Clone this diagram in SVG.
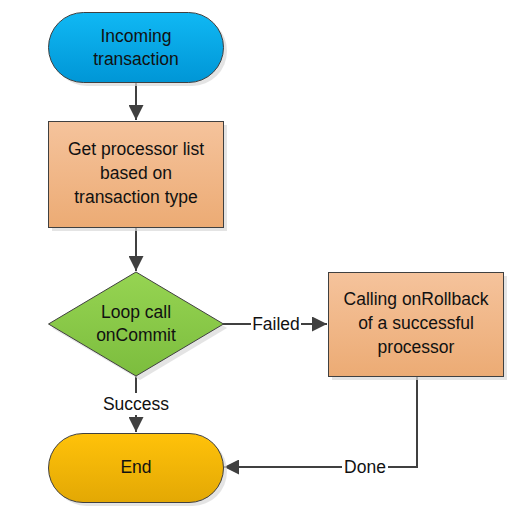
<svg xmlns="http://www.w3.org/2000/svg" width="526" height="528" viewBox="0 0 526 528">
<defs>
<linearGradient id="gBlue" x1="0" y1="0" x2="0" y2="1"><stop offset="0" stop-color="#10b8f4"/><stop offset="1" stop-color="#0096d6"/></linearGradient>
<linearGradient id="gOrange" x1="0" y1="0" x2="0" y2="1"><stop offset="0" stop-color="#f5c39c"/><stop offset="1" stop-color="#ecab74"/></linearGradient>
<linearGradient id="gGreen" x1="0" y1="0" x2="0" y2="1"><stop offset="0" stop-color="#96d452"/><stop offset="1" stop-color="#7cbd3e"/></linearGradient>
<linearGradient id="gGold" x1="0" y1="0" x2="0" y2="1"><stop offset="0" stop-color="#ffc20a"/><stop offset="1" stop-color="#e3a804"/></linearGradient>
<marker id="arr" viewBox="0 0 10 10" refX="10" refY="5" markerWidth="8" markerHeight="7.5" orient="auto" markerUnits="strokeWidth"><path d="M0,0 L10,5 L0,10 z" fill="#404040"/></marker>
</defs>
<style>
.s{stroke:#404040;stroke-width:1}
.sh{fill:#d9d9d9;opacity:0.7}
.t{font-family:"Liberation Sans",Arial,sans-serif;font-size:17.5px;fill:#111111;text-anchor:middle}
.c{fill:none;stroke:#404040;stroke-width:2}
.lb{font-family:"Liberation Sans",Arial,sans-serif;font-size:17.5px;fill:#111111;text-anchor:middle}
</style>
<rect width="526" height="528" fill="#ffffff"/>
<g id="connectors">
<line class="c" x1="136" y1="82" x2="136" y2="120" marker-end="url(#arr)"/>
<line class="c" x1="136" y1="227" x2="136" y2="271" marker-end="url(#arr)"/>
<line class="c" x1="223" y1="324" x2="327" y2="324" marker-end="url(#arr)"/>
<line class="c" x1="136" y1="376" x2="136" y2="432" marker-end="url(#arr)"/>
<polyline class="c" points="417,376 417,467 224,467" marker-end="url(#arr)"/>
<rect x="251" y="313" width="50" height="22" fill="#fff"/>
<text class="lb" x="276" y="330">Failed</text>
<rect x="102" y="393" width="68" height="22" fill="#fff"/>
<text class="lb" x="136" y="410">Success</text>
<rect x="342" y="456" width="46" height="22" fill="#fff"/>
<text class="lb" x="365" y="473">Done</text>
</g>
<g id="start">
<rect class="sh" x="52" y="16" width="175" height="70" rx="35"/>
<rect class="s" x="48.5" y="12.5" width="175" height="70" rx="35" fill="url(#gBlue)"/>
<text class="t" x="136" y="42">Incoming</text>
<text class="t" x="136" y="65">transaction</text>
</g>
<g id="getlist">
<rect class="sh" x="52" y="125" width="175" height="106"/>
<rect class="s" x="48.5" y="121.5" width="175" height="106" fill="url(#gOrange)"/>
<text class="t" x="136" y="155">Get processor list</text>
<text class="t" x="136" y="179">based on</text>
<text class="t" x="136" y="203">transaction type</text>
</g>
<g id="loop">
<polygon class="sh" points="140,276 227,328 140,380 52,328"/>
<polygon class="s" points="136,272 223.5,324 136,376 48.5,324" fill="url(#gGreen)"/>
<text class="t" x="136" y="318">Loop call</text>
<text class="t" x="136" y="341">onCommit</text>
</g>
<g id="rollback">
<rect class="sh" x="332" y="276" width="175" height="104"/>
<rect class="s" x="328.5" y="272.5" width="175" height="104" fill="url(#gOrange)"/>
<text class="t" x="416" y="305">Calling onRollback</text>
<text class="t" x="416" y="329">of a successful</text>
<text class="t" x="416" y="353">processor</text>
</g>
<g id="end">
<rect class="sh" x="52" y="437" width="175" height="69" rx="34.5"/>
<rect class="s" x="48.5" y="433.5" width="175" height="69" rx="34.5" fill="url(#gGold)"/>
<text class="t" x="136" y="473">End</text>
</g>
</svg>
